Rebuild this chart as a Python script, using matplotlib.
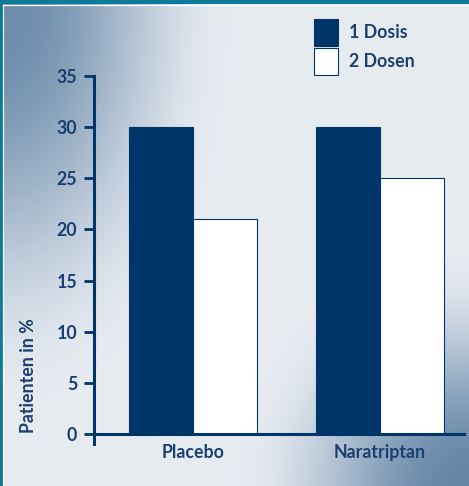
import numpy as np
import matplotlib
matplotlib.use("Agg")
import matplotlib.pyplot as plt
from matplotlib.patches import Rectangle

# Data
groups = ["Placebo", "Naratriptan"]
series_names = ["1 Dosis", "2 Dosen"]
one_dose = [30, 30]
two_doses = [21, 25]
yticks = [0, 5, 10, 15, 20, 25, 30, 35]

NAVY = "#00356a"
TEXT = "#1b3f6f"
FRAME = "#0b7a9b"

W, H = 469, 486
fig = plt.figure(figsize=(W / 100, H / 100), dpi=100)

# Shaded backdrop: dark blue-grey in top-left and bottom-right corners
bg = fig.add_axes([0, 0, 1, 1], zorder=-10)
u = np.linspace(0, 1, W)[None, :]
v = np.linspace(0, 1, H)[:, None]


def smooth(t):
    t = np.clip(t, 0, 1)
    return t * t * (3 - 2 * t)


r1 = np.sqrt((u / 0.50) ** 2 + (v / 0.85) ** 2)
r2 = np.sqrt(((1 - u) / 0.50) ** 2 + ((1 - v) / 0.48) ** 2)
d = np.maximum(0.95 * smooth(1.05 * (1 - r1)), smooth(1.05 * (1 - r2)))
light = np.array([0.905, 0.922, 0.945])
dark = np.array([0.40, 0.53, 0.66])
img = light[None, None, :] * (1 - d[..., None]) + dark[None, None, :] * d[..., None]
bg.imshow(img, extent=[0, W, H, 0], aspect="auto", interpolation="bilinear")
bg.set_xlim(0, W)
bg.set_ylim(H, 0)
bg.axis("off")
# Frame: teal band at the top and left, thin white inner line
bg.add_patch(Rectangle((0, 0), W, 4.5, color=FRAME, lw=0))
bg.add_patch(Rectangle((0, 0), 2.5, H, color=FRAME, lw=0))
bg.plot([3.2, W], [5.3, 5.3], color="white", lw=0.9)
bg.plot([3.2, 3.2], [5.3, H], color="white", lw=0.9)

plt.rcParams["font.family"] = ["Lato", "DejaVu Sans"]
fs = 12.8

ax = fig.add_axes([94 / W, (H - 434) / H, (464 - 94) / W, (434 - 76) / H])
ax.patch.set_alpha(0)
x = np.arange(len(groups))
bw = 0.342
ax.bar(x - bw / 2, one_dose, bw, color=NAVY, edgecolor=NAVY, lw=0.8, label=series_names[0], zorder=2)
ax.bar(x + bw / 2, two_doses, bw, color="white", edgecolor=NAVY, lw=0.8, label=series_names[1], zorder=2)

ax.set_xlim(-0.529, 1.449)
ax.set_ylim(0, 35)
ax.set_yticks(yticks)
ax.set_xticks(x)
ax.set_xticklabels(groups)
for s in ["top", "right"]:
    ax.spines[s].set_visible(False)
for s in ["left", "bottom"]:
    ax.spines[s].set_color(NAVY)
    ax.spines[s].set_linewidth(2.2)
ax.spines["left"].set_bounds(-0.95, 35)
ax.tick_params(axis="y", length=7, width=2, color=NAVY, pad=5, labelsize=fs, labelcolor=TEXT)
ax.tick_params(axis="x", length=0, pad=7, labelsize=fs, labelcolor=TEXT)
for t in ax.get_yticklabels() + ax.get_xticklabels():
    t.set_fontweight("bold")

fig.text(28 / W, 1 - 376 / H, "Patienten in %", rotation=90, ha="center", va="center",
         fontsize=fs, fontweight="bold", color=TEXT)

leg = ax.legend(loc="upper left", bbox_to_anchor=((315 - 94) / 370 - 0.003, 1 + (76 - 19) / 358),
                frameon=False, fontsize=fs, handlelength=1.35, handleheight=1.95,
                handletextpad=0.6, labelspacing=0.12, borderpad=0, borderaxespad=0)
for t in leg.get_texts():
    t.set_color(TEXT)
    t.set_fontweight("bold")

fig.savefig("out.png", dpi=100)
